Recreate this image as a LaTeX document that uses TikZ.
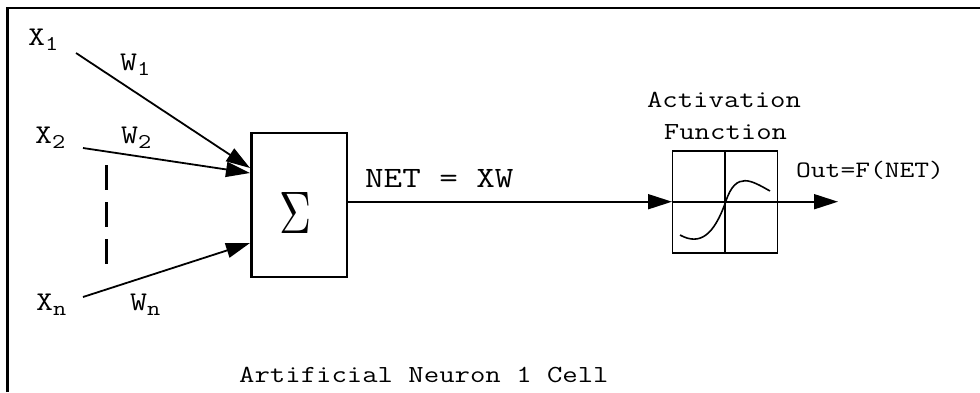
\documentclass[tikz,border=0pt]{standalone}
\usepackage{fontspec}
\newfontfamily\cour[FakeStretch=1.22]{Latin Modern Mono}
\usetikzlibrary{arrows.meta}
\newcommand{\sub}[1]{\raisebox{-5pt}{\fontsize{21}{21}\selectfont #1}}
\begin{document}
\begin{tikzpicture}[x=1pt,y=-1pt,
  lbl/.style={inner sep=0pt, anchor=base west, font=\cour\fontsize{27}{27}\selectfont},
  txt/.style={inner sep=0pt, font=\cour\fontsize{24.5}{24.5}\selectfont},
  conn/.style={line width=1.8pt, -{Triangle[length=24pt,width=15pt]}},
  sumbox/.style={draw, line width=2.7pt, minimum width=95.5pt, minimum height=144pt, inner sep=0pt},
  actbox/.style={draw, line width=1.3pt, minimum width=105pt, minimum height=102pt, inner sep=0pt},
  frame/.style={line width=2.3pt},
  dots/.style={line width=3pt, dash pattern=on 25pt off 12pt}]
\useasboundingbox (0,0) rectangle (980,392);
\fill[white] (0,0) rectangle (980,392);
\draw[frame] (7.5,392) -- (7.5,8) -- (980,8);

% boxes
\node[sumbox] (sum) at (299.25,205) {};
\node[inner sep=0pt] (sigma) at (296,212.5) {\resizebox{32pt}{41pt}{$\Sigma$}};
\node[actbox] (act) at (725,202) {};
\draw[line width=1.3pt] (act.north) -- (act.south);

% labels
\node[lbl] (x1) at (28,45) {X\sub{1}};
\node[lbl] (w1) at (120,70) {W\sub{1}};
\node[lbl] (x2) at (35,143) {X\sub{2}};
\node[lbl] (w2) at (121,143) {W\sub{2}};
\node[lbl] (xn) at (36,310) {X\sub{n}};
\node[lbl] (wn) at (130,310) {W\sub{n}};
\node[lbl, font=\cour\fontsize{29.5}{29.5}\selectfont] (net) at (365,187) {NET = XW};
\node[txt, anchor=base] (actl) at (724,107) {Activation};
\node[txt, anchor=base] (fun) at (725.5,139) {Function};
\node[txt, anchor=base west, font=\cour\fontsize{23.5}{23.5}\selectfont] (outl) at (796,177) {Out=F(NET)};
\node[txt, anchor=base west] (title) at (239,382) {Artificial Neuron 1 Cell};

% connector end points
\coordinate (s1) at (76,53);
\coordinate (e1) at (250,168);
\coordinate (s2) at (83,148);
\coordinate (e2) at (250,173);
\coordinate (sn) at (83,297);
\coordinate (en) at (250,243);
\coordinate (netA) at (348,201.7);
\coordinate (netB) at (672,201.7);
\coordinate (outB) at (838,201.7);
\coordinate (dA) at (106.5,165);
\coordinate (dB) at (106.5,264);

\draw[conn] (s1) -- (e1);
\draw[conn] (s2) -- (e2);
\draw[conn] (sn) -- (en);
\draw[conn] (netA) -- (netB);
\draw[conn] (netB) -- (outB);
\draw[dots] (dA) -- (dB);

% sigmoid
\draw[line width=1.6pt] (680,235) .. controls (700,246) and (714,235) .. (725.7,201.7)
  .. controls (736,170) and (752,181) .. (770,191);
\end{tikzpicture}
\end{document}
